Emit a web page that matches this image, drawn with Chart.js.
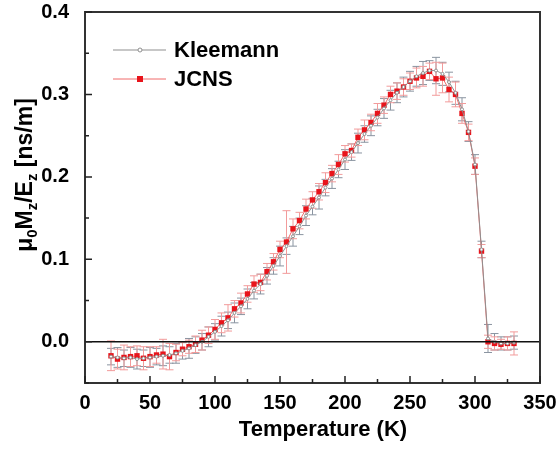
<!DOCTYPE html>
<html lang="en">
<head>
  <meta charset="UTF-8" />
  <title>mu0 Mz / Ez vs Temperature</title>
  <script src="https://cdn.jsdelivr.net/npm/chart.js"></script>
  <style>
    body { margin: 0; background: #fff; }
    #wrap { width: 557px; height: 450px; }
  </style>
</head>
<body>
<div id="wrap"><canvas id="chart" width="557" height="450"></canvas></div>
<script>
// temperatures (K), same for both data sets
const temps = [20,25,30,35,40,45,50,55,60,65,70,75,80,85,90,95,100,105,110,115,120,125,130,135,140,145,150,155,160,165,170,175,180,185,190,195,200,205,210,215,220,225,230,235,240,245,250,255,260,265,270,275,280,285,290,295,300,305,310,315,320,325,330];

const jcns = [-0.017,-0.021,-0.019,-0.018,-0.017,-0.020,-0.018,-0.016,-0.015,-0.018,-0.013,-0.009,-0.006,-0.003,0.002,0.008,0.015,0.023,0.029,0.040,0.047,0.058,0.070,0.072,0.085,0.097,0.112,0.121,0.137,0.147,0.161,0.172,0.182,0.193,0.204,0.215,0.228,0.232,0.248,0.257,0.266,0.277,0.287,0.300,0.304,0.309,0.316,0.320,0.322,0.328,0.319,0.320,0.306,0.300,0.277,0.254,0.213,0.110,0.000,-0.002,-0.003,-0.002,-0.002];
const jcnsErr = [0.018,0.012,0.015,0.012,0.012,0.014,0.012,0.010,0.018,0.016,0.010,0.008,0.008,0.010,0.012,0.010,0.012,0.012,0.016,0.010,0.012,0.010,0.010,0.010,0.010,0.010,0.010,0.038,0.012,0.010,0.012,0.010,0.010,0.012,0.010,0.012,0.010,0.008,0.010,0.012,0.010,0.012,0.010,0.010,0.010,0.010,0.010,0.012,0.012,0.010,0.020,0.018,0.015,0.015,0.012,0.010,0.010,0.008,0.008,0.008,0.006,0.008,0.014];

const kleemann = [-0.018,-0.019,-0.020,-0.019,-0.021,-0.020,-0.019,-0.018,-0.017,-0.016,-0.014,-0.011,-0.008,-0.004,0.000,0.006,0.012,0.019,0.026,0.035,0.043,0.052,0.062,0.070,0.080,0.092,0.104,0.116,0.128,0.140,0.153,0.164,0.175,0.187,0.198,0.209,0.221,0.230,0.241,0.252,0.262,0.272,0.283,0.293,0.302,0.309,0.316,0.322,0.326,0.329,0.329,0.325,0.315,0.302,0.282,0.255,0.215,0.112,0.004,0.000,-0.002,-0.002,-0.001];
const kleemannErr = [0.010,0.012,0.010,0.012,0.012,0.010,0.012,0.010,0.012,0.010,0.012,0.010,0.012,0.010,0.010,0.012,0.010,0.012,0.010,0.012,0.010,0.012,0.010,0.012,0.010,0.010,0.012,0.010,0.012,0.010,0.012,0.010,0.014,0.010,0.012,0.010,0.012,0.010,0.012,0.010,0.012,0.010,0.012,0.012,0.012,0.012,0.012,0.012,0.014,0.012,0.016,0.014,0.012,0.014,0.014,0.012,0.012,0.010,0.017,0.010,0.008,0.008,0.008];

const xTicks = [0,25,50,75,100,125,150,175,200,225,250,275,300,325,350];
const yTicks = [-0.05,0,0.05,0.1,0.15,0.2,0.25,0.3,0.35,0.4];

const FONT = "'Liberation Sans', Arial, sans-serif";
const RED = '#e8141b';
const RED_LINE = '#f06a6a';
const RED_ERR = '#f29b9b';
const GRAY = '#8f8f8f';
const GRAY_ERR = '#8a94a0';

function pts(vals) {
  return temps.map((t, i) => ({ x: t, y: vals[i] }));
}

// error bars, drawn under the markers
const errorBars = {
  id: 'errorBars',
  beforeDatasetsDraw(chart) {
    const { ctx, scales: { x, y } } = chart;
    const sets = [[kleemann, kleemannErr, GRAY_ERR], [jcns, jcnsErr, RED_ERR]];
    ctx.save();
    ctx.lineWidth = 1;
    sets.forEach(([vals, errs, col]) => {
      ctx.strokeStyle = col;
      temps.forEach((t, i) => {
        const px = x.getPixelForValue(t);
        const top = y.getPixelForValue(vals[i] + errs[i]);
        const bot = y.getPixelForValue(vals[i] - errs[i]);
        ctx.beginPath();
        ctx.moveTo(px, top); ctx.lineTo(px, bot);
        ctx.moveTo(px - 4, top); ctx.lineTo(px + 4, top);
        ctx.moveTo(px - 4, bot); ctx.lineTo(px + 4, bot);
        ctx.stroke();
      });
    });
    ctx.restore();
  }
};

// frame, zero line, inward ticks, axis titles, legend
const decor = {
  id: 'decor',
  afterDraw(chart) {
    const { ctx, chartArea: a, scales: { x, y } } = chart;
    ctx.save();
    // zero line
    const y0 = y.getPixelForValue(0);
    ctx.strokeStyle = '#111';
    ctx.lineWidth = 1.5;
    ctx.beginPath(); ctx.moveTo(a.left, y0); ctx.lineTo(a.right, y0); ctx.stroke();

    // frame
    ctx.strokeStyle = '#333';
    ctx.lineWidth = 2;
    ctx.strokeRect(a.left, a.top, a.right - a.left, a.bottom - a.top);

    // ticks
    ctx.lineWidth = 1.5;
    ctx.strokeStyle = '#222';
    ctx.beginPath();
    xTicks.forEach(v => {
      const px = x.getPixelForValue(v);
      const len = v % 50 === 0 ? 7 : 4;
      ctx.moveTo(px, a.bottom); ctx.lineTo(px, a.bottom - len);
    });
    yTicks.forEach(v => {
      const py = y.getPixelForValue(v);
      const major = Math.abs(v * 10 - Math.round(v * 10)) < 1e-6;
      ctx.moveTo(a.left, py); ctx.lineTo(a.left + (major ? 7 : 4), py);
    });
    ctx.stroke();

    // x title
    ctx.fillStyle = '#000';
    ctx.font = 'bold 22px ' + FONT;
    ctx.textAlign = 'center';
    ctx.textBaseline = 'middle';
    ctx.fillText('Temperature (K)', 323, 430);

    // y title with subscripts
    ctx.translate(24, 175);
    ctx.rotate(-Math.PI / 2);
    const parts = [['\u03bc', 0], ['0', 1], ['M', 0], ['z', 1], ['/E', 0], ['z', 1], [' [ns/m]', 0]];
    const big = 'bold 23px ' + FONT, small = 'bold 15px ' + FONT;
    let total = 0;
    parts.forEach(([s, sub]) => { ctx.font = sub ? small : big; total += ctx.measureText(s).width; });
    let cx = -total / 2;
    ctx.textAlign = 'left';
    ctx.textBaseline = 'alphabetic';
    parts.forEach(([s, sub]) => {
      ctx.font = sub ? small : big;
      ctx.fillText(s, cx, sub ? 13 : 8);
      cx += ctx.measureText(s).width;
    });
    ctx.setTransform(1, 0, 0, 1, 0, 0);

    // legend
    const rows = [
      { label: 'Kleemann', y: 50, line: GRAY, kind: 'circle' },
      { label: 'JCNS', y: 79, line: RED_LINE, kind: 'square' }
    ];
    rows.forEach(r => {
      ctx.strokeStyle = r.line;
      ctx.lineWidth = 1;
      ctx.beginPath(); ctx.moveTo(113, r.y); ctx.lineTo(166, r.y); ctx.stroke();
      if (r.kind === 'circle') {
        ctx.fillStyle = '#fff';
        ctx.strokeStyle = GRAY;
        ctx.beginPath(); ctx.arc(140, r.y, 2, 0, Math.PI * 2); ctx.fill(); ctx.stroke();
      } else {
        ctx.fillStyle = RED;
        ctx.fillRect(137, r.y - 3, 6, 6);
      }
      ctx.fillStyle = '#000';
      ctx.font = 'bold 22px ' + FONT;
      ctx.textAlign = 'left';
      ctx.textBaseline = 'middle';
      ctx.fillText(r.label, 174, r.y + 1);
    });
    ctx.restore();
  }
};

new Chart(document.getElementById('chart'), {
  type: 'scatter',
  data: {
    datasets: [
      {
        label: 'Kleemann',
        data: pts(kleemann),
        showLine: true,
        borderColor: GRAY,
        borderWidth: 1,
        pointStyle: 'circle',
        pointRadius: 1.5,
        pointBackgroundColor: '#fff',
        pointBorderColor: GRAY,
        pointBorderWidth: 1
      },
      {
        label: 'JCNS',
        data: pts(jcns),
        showLine: true,
        borderColor: RED_LINE,
        borderWidth: 1,
        pointStyle: 'rect',
        pointRadius: 3.8,
        pointBackgroundColor: RED,
        pointBorderColor: RED,
        pointBorderWidth: 0
      }
    ]
  },
  options: {
    responsive: false,
    animation: false,
    layout: { padding: { left: 0, right: 17, top: 12, bottom: 0 } },
    plugins: {
      legend: { display: false },
      tooltip: { enabled: false }
    },
    scales: {
      x: {
        type: 'linear',
        min: 0, max: 350,
        grid: { display: false },
        border: { display: false },
        afterBuildTicks: s => { s.ticks = xTicks.filter(v => v % 50 === 0).map(v => ({ value: v })); },
        ticks: {
          color: '#000',
          padding: 0,
          maxRotation: 0,
          font: { family: FONT, size: 20, weight: 'bold' }
        },
        afterFit: s => { s.height = 67; s.paddingLeft = 0; s.paddingRight = 0; }
      },
      y: {
        type: 'linear',
        min: -0.05, max: 0.4,
        grid: { display: false },
        border: { display: false },
        afterBuildTicks: s => { s.ticks = [0, 0.1, 0.2, 0.3, 0.4].map(v => ({ value: v })); },
        ticks: {
          color: '#000',
          padding: 8,
          font: { family: FONT, size: 20, weight: 'bold' },
          callback: v => v.toFixed(1)
        },
        afterFit: s => { s.width = 85; s.paddingTop = 0; s.paddingBottom = 0; }
      }
    }
  },
  plugins: [errorBars, decor]
});
</script>
</body>
</html>
